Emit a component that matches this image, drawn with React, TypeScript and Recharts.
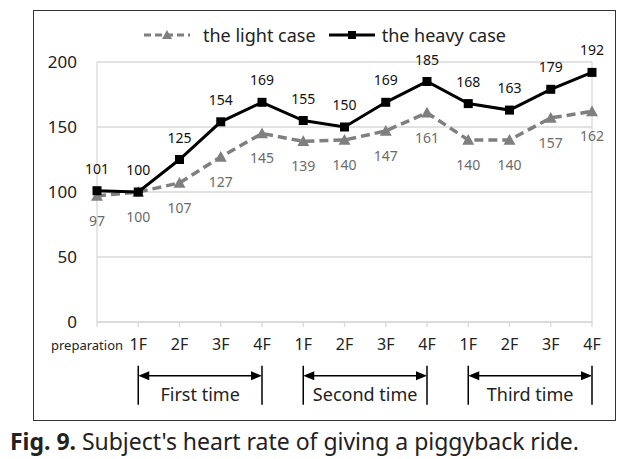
import React from "react";
import { LineChart, Line, XAxis, YAxis, CartesianGrid, ReferenceLine, LabelList } from "recharts";

const stages = ["preparation", "1F", "2F", "3F", "4F", "1F", "2F", "3F", "4F", "1F", "2F", "3F", "4F"];
const lightCase = [97, 100, 107, 127, 145, 139, 140, 147, 161, 140, 140, 157, 162];
const heavyCase = [101, 100, 125, 154, 169, 155, 150, 169, 185, 168, 163, 179, 192];
const yTicks = [0, 50, 100, 150, 200];
const rounds = [
  { label: "First time", from: 1, to: 4 },
  { label: "Second time", from: 5, to: 8 },
  { label: "Third time", from: 9, to: 12 },
];

const data = stages.map((stage, i) => ({
  id: `s${i}`,
  stage,
  light: lightCase[i],
  heavy: heavyCase[i],
}));

const FONT = "'Noto Sans', 'Open Sans', sans-serif";
const GRID = "#d9d9d9";
const LIGHT = "#7f7f7f";
const HEAVY = "#000";
const BRACKET_Y = -41.3; // below the x axis, in data units

const triangle = (cx: number, cy: number, s = 6) =>
  `${cx},${cy - s} ${cx - s},${cy + s * 0.8} ${cx + s},${cy + s * 0.8}`;

const TriangleDot = (p: any) => (
  <polygon key={`t${p.index}`} points={triangle(p.cx, p.cy)} fill={LIGHT} />
);
const SquareDot = (p: any) => (
  <rect key={`q${p.index}`} x={p.cx - 4.5} y={p.cy - 4.5} width={9} height={9} fill={HEAVY} />
);

const StageTick = (p: any) => {
  const first = p.index === 0;
  return (
    <text
      x={first ? p.x - 10 : p.x}
      y={p.y + 21}
      textAnchor="middle"
      fontSize={first ? 13 : 16}
      fontFamily={FONT}
      fill="#222"
    >
      {stages[p.index]}
    </text>
  );
};

const Bracket = (p: any) => {
  const { x1, x2, y1: y, label } = p;
  return (
    <g>
      <line x1={x1} y1={y - 10} x2={x1} y2={y + 29} stroke="#000" strokeWidth={1.5} />
      <line x1={x2} y1={y - 10} x2={x2} y2={y + 29} stroke="#000" strokeWidth={1.5} />
      <line x1={x1 + 8} y1={y} x2={x2 - 8} y2={y} stroke="#000" strokeWidth={1.5} />
      <polygon points={`${x1},${y} ${x1 + 11},${y - 4.5} ${x1 + 11},${y + 4.5}`} fill="#000" />
      <polygon points={`${x2},${y} ${x2 - 11},${y - 4.5} ${x2 - 11},${y + 4.5}`} fill="#000" />
      <text x={(x1 + x2) / 2} y={y + 25} textAnchor="middle" fontSize={18} fontFamily={FONT} fill="#222">
        {label}
      </text>
    </g>
  );
};

const legendItems = [
  { name: "the light case", color: LIGHT, dash: "7 4", marker: "triangle" },
  { name: "the heavy case", color: HEAVY, dash: undefined, marker: "square" },
];

export default function App() {
  return (
    <div style={{ position: "absolute", left: 0, top: 0, width: 636, height: 459, background: "#fff", fontFamily: FONT }}>
      <div
        style={{
          position: "absolute",
          left: 33,
          top: 10,
          width: 583,
          height: 411,
          border: "1.5px solid #333",
          boxSizing: "border-box",
        }}
      />
      <div style={{ position: "absolute", left: 33, top: 23, width: 583, display: "flex", justifyContent: "center", gap: 12 }}>
        {legendItems.map((it) => (
          <div key={it.name} style={{ display: "flex", alignItems: "center" }}>
            <svg width={48} height={24}>
              <line x1={1} y1={12} x2={47} y2={12} stroke={it.color} strokeWidth={3} strokeDasharray={it.dash} />
              {it.marker === "triangle" ? (
                <polygon points={triangle(24, 12, 5)} fill={it.color} />
              ) : (
                <rect x={20} y={8} width={8} height={8} fill={it.color} />
              )}
            </svg>
            <span style={{ fontSize: 18, color: "#222", marginLeft: it.marker === "triangle" ? 12 : 6 }}>{it.name}</span>
          </div>
        ))}
      </div>
      <div style={{ position: "absolute", left: 0, top: 0 }}>
        <LineChart width={636} height={459} data={data} margin={{ top: 62, right: 44, bottom: 97, left: 0 }}>
          <CartesianGrid vertical={false} stroke={GRID} strokeWidth={1.3} />
          <XAxis
            dataKey="id"
            interval={0}
            height={40}
            tick={<StageTick />}
            tickSize={5}
            axisLine={{ stroke: GRID, strokeWidth: 1.3 }}
            tickLine={{ stroke: GRID, strokeWidth: 1.3 }}
          />
          <YAxis
            width={97}
            domain={[0, 200]}
            ticks={yTicks}
            tickSize={0}
            tickMargin={20}
            axisLine={{ stroke: GRID, strokeWidth: 1.3 }}
            tick={{ fontSize: 17, fill: "#222", fontFamily: FONT }}
          />
          <ReferenceLine x={data[data.length - 1].id} stroke={GRID} strokeWidth={1.3} />
          {rounds.map((r) => (
            <ReferenceLine
              key={r.label}
              ifOverflow="visible"
              segment={[
                { x: data[r.from].id, y: BRACKET_Y },
                { x: data[r.to].id, y: BRACKET_Y },
              ]}
              shape={(p: any) => <Bracket {...p} label={r.label} />}
            />
          ))}
          <Line
            dataKey="light"
            stroke={LIGHT}
            strokeWidth={3.5}
            strokeDasharray="9 5"
            dot={TriangleDot}
            activeDot={false}
            isAnimationActive={false}
          >
            <LabelList dataKey="light" position="bottom" offset={20} fill="#6b6b6b" fontSize={14} fontFamily={FONT} />
          </Line>
          <Line
            dataKey="heavy"
            stroke={HEAVY}
            strokeWidth={3}
            dot={SquareDot}
            activeDot={false}
            isAnimationActive={false}
          >
            <LabelList dataKey="heavy" position="top" offset={17} fill="#111" fontSize={14} fontFamily={FONT} />
          </Line>
        </LineChart>
      </div>
      <svg style={{ position: "absolute", left: 0, top: 421 }} width={636} height={38}>
        <text x={10} y={29} fontSize={23} fontFamily={FONT} fontWeight={400} fill="#222" textLength={569} lengthAdjust="spacing">
          <tspan fontWeight="bold">Fig. 9.</tspan> Subject's heart rate of giving a piggyback ride.
        </text>
      </svg>
    </div>
  );
}
